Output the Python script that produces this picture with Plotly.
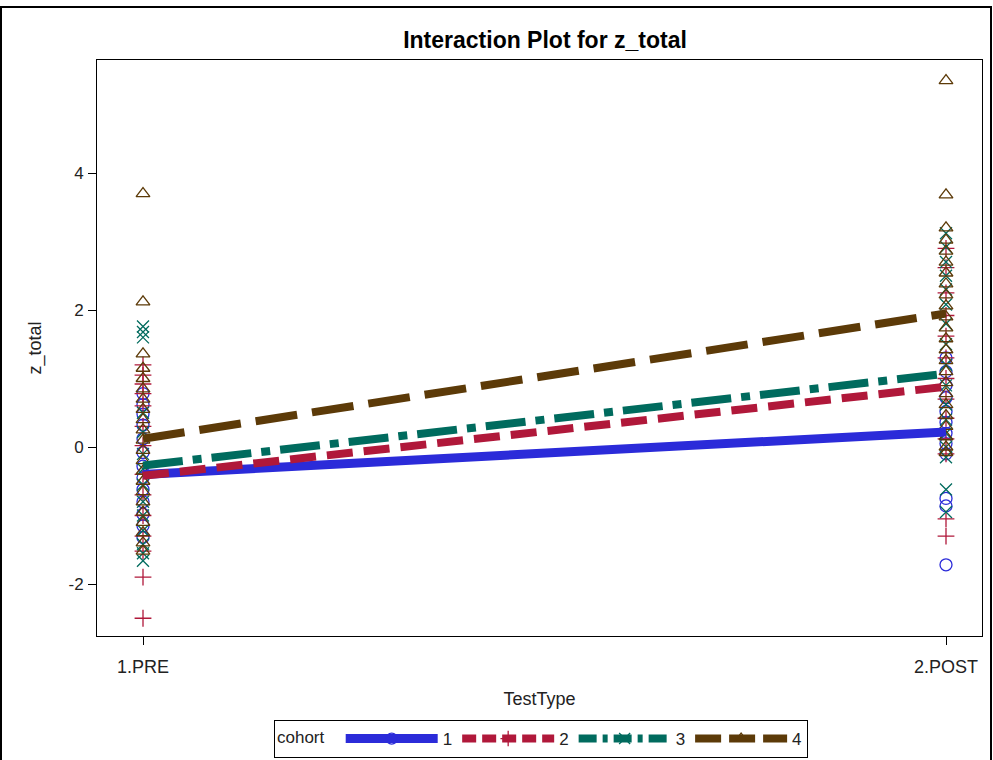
import plotly.graph_objects as go

# ---- data ----
test_types = ["1.PRE", "2.POST"]
test_pos = [1, 2]
cohorts = ["1", "2", "3", "4"]
y_ticks = [-2, 0, 2, 4]
y_tick_text = ["-2", "0", "2", "4"]

# cohort means (interaction lines)
mean_pre = [-0.40, -0.42, -0.27, 0.12]
mean_post = [0.22, 0.88, 1.07, 1.95]

# individual observations
c1_pre = [0.78, 0.62, 0.48, 0.32, 0.12, -0.08, -0.28, -0.45, -0.62, -0.80, -0.98, -1.15, -1.32]
c1_post = [1.30, 1.10, 0.90, 0.72, 0.52, 0.36, 0.20, 0.05, -0.10, -0.75, -0.86, -1.72]
c2_pre = [1.20, 1.05, 0.92, 0.78, 0.60, 0.30, 0.02, -0.40, -0.70, -1.00, -1.30, -1.52, -1.90, -2.50]
c2_post = [2.90, 2.62, 2.25, 1.92, 1.62, 1.30, 1.00, 0.70, 0.42, 0.12, -0.10, -1.05, -1.30]
c3_pre = [1.76, 1.68, 1.60, 0.50, 0.22, -0.10, -0.32, -0.55, -0.80, -1.00, -1.22, -1.42, -1.55, -1.66]
c3_post = [3.12, 2.92, 2.70, 2.50, 2.30, 2.08, 1.80, 1.50, 1.20, 0.90, 0.62, 0.40, 0.20, 0.00, -0.15, -0.62, -0.95]
c4_pre = [3.70, 2.12, 1.36, 1.15, 1.00, 0.85, 0.70, 0.55, 0.40, 0.25, 0.10, -0.05, -0.20, -0.35,
          -0.50, -0.65, -0.80, -0.95, -1.10, -1.25, -1.40, -1.52]
c4_post = [5.35, 3.68, 3.20, 3.02, 2.86, 2.70, 2.54, 2.38, 2.22, 2.06, 1.90, 1.74, 1.58, 1.42,
           1.26, 1.10, 0.94, 0.78, 0.62, 0.46, 0.30, 0.15, 0.00, -0.08]

pre_vals = [c1_pre, c2_pre, c3_pre, c4_pre]
post_vals = [c1_post, c2_post, c3_post, c4_post]

colors = ["#2b2bd9", "#b0183a", "#006b5e", "#5c3a08"]
symbols = ["circle-open", "cross-thin-open", "x-thin-open", "triangle-up-open"]
dashes = ["solid", "26px,11px", "40px,10px,9px,10px", "42px,15px"]
widths = [9, 8, 8, 8]

FONT = "Arial, Liberation Sans, sans-serif"
TXT = "#222"

fig = go.Figure()

# scatter points
for i, c in enumerate(cohorts):
    xs = [test_pos[0]] * len(pre_vals[i]) + [test_pos[1]] * len(post_vals[i])
    ys = pre_vals[i] + post_vals[i]
    fig.add_trace(go.Scatter(
        x=xs, y=ys, mode="markers", showlegend=False, legendgroup=c,
        marker=dict(symbol=symbols[i], size=12, color=colors[i],
                    line=dict(width=1.3, color=colors[i])),
    ))

# mean lines
for i, c in enumerate(cohorts):
    fig.add_trace(go.Scatter(
        x=test_pos, y=[mean_pre[i], mean_post[i]], mode="lines",
        showlegend=False, legendgroup=c,
        line=dict(color=colors[i], width=widths[i], dash=dashes[i]),
    ))

# legend entries (line + marker)
leg_dashes = ["solid", "14px,6px", "18px,6px,5px,6px", "26px,8px"]
for i, c in enumerate(cohorts):
    fig.add_trace(go.Scatter(
        x=[None], y=[None], mode="lines+markers", name=c, legendgroup=c,
        line=dict(color=colors[i], width=widths[i], dash=leg_dashes[i]),
        marker=dict(symbol=symbols[i], size=11, color=colors[i],
                    line=dict(width=1.3, color=colors[i])),
    ))

L, R, T, B = 97, 11, 60, 124
W, H = 993, 760
pw, ph = W - L - R, H - T - B

def px_to_paper_x(px):
    return (px - L) / pw

def px_to_paper_y(py):
    return (H - B - py) / ph

fig.update_layout(
    width=W, height=H,
    margin=dict(l=L, r=R, t=T, b=B, autoexpand=False),
    paper_bgcolor="white", plot_bgcolor="white",
    font=dict(family=FONT, size=17, color=TXT),
    title=dict(text="<b>Interaction Plot for z_total</b>", x=px_to_paper_x(545), xref="paper",
               xanchor="center", y=1 - 40 / H, yanchor="middle",
               font=dict(family=FONT, size=23, color="black")),
    xaxis=dict(
        range=[1 - 46 / 803, 2 + 36 / 803],
        tickvals=test_pos, ticktext=test_types,
        showgrid=False, zeroline=False,
        showline=True, linecolor="black", linewidth=1, mirror=True,
        ticks="outside", ticklen=8, tickcolor="black",
        ticklabelstandoff=6,
        tickfont=dict(size=18, color=TXT),
        title=dict(text="TestType", font=dict(size=18, color=TXT), standoff=16),
    ),
    yaxis=dict(
        range=[(447 - 636) / 68.5, (447 - 60) / 68.5],
        tickvals=y_ticks, ticktext=y_tick_text,
        showgrid=False, zeroline=False,
        showline=True, linecolor="black", linewidth=1, mirror=True,
        ticks="outside", ticklen=8, tickcolor="black",
        ticklabelstandoff=1,
        tickfont=dict(size=17, color=TXT),
        title=dict(text="z_total", font=dict(size=18, color=TXT), standoff=22),
    ),
    legend=dict(
        orientation="h", x=px_to_paper_x(541), xanchor="center",
        y=px_to_paper_y(720), yanchor="top",
        bordercolor="black", borderwidth=1,
        title=dict(text="cohort  ", font=dict(size=17, color=TXT)),
        font=dict(size=17, color=TXT),
        itemwidth=92,
        tracegroupgap=0,
    ),
    shapes=[dict(
        type="rect", xref="paper", yref="paper",
        x0=px_to_paper_x(1), x1=px_to_paper_x(991),
        y0=px_to_paper_y(770), y1=px_to_paper_y(7),
        line=dict(color="black", width=2), fillcolor="rgba(0,0,0,0)", layer="below",
    )],
)

fig.write_html("out.html", post_script="document.body.style.margin='0';",
               config={"displayModeBar": False})
